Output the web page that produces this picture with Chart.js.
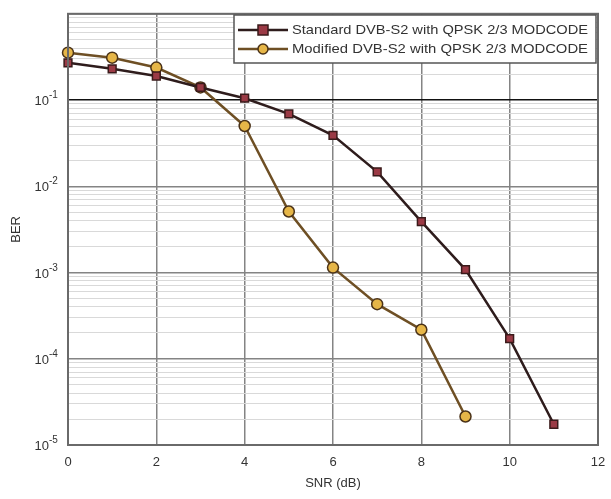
<!DOCTYPE html>
<html>
<head>
<meta charset="utf-8">
<script src="https://cdn.jsdelivr.net/npm/chart.js@4.4.1/dist/chart.umd.min.js"></script>
<style>
  html, body { margin: 0; padding: 0; background: #fff; }
  #wrap { width: 611px; height: 499px; }
</style>
</head>
<body>
<div id="wrap"><canvas id="berChart" width="611" height="499"></canvas></div>
<script>
// Dados
const snrDb = [0, 1, 2, 3, 4, 5, 6, 7, 8, 9, 10, 11];
const berStandard = [0.27, 0.23, 0.19, 0.14, 0.105, 0.069, 0.039, 0.0147, 0.0039, 0.00108, 0.000171, 0.0000174];
const berModified = [0.354, 0.31, 0.238, 0.14, 0.05, 0.0051, 0.00114, 0.00043, 0.000217, 0.0000214];
const seriesLabels = ['Standard DVB-S2 with QPSK 2/3 MODCODE', 'Modified DVB-S2 with QPSK 2/3 MODCODE'];
const decadeExps = [-1, -2, -3, -4, -5];

const FONT = '"Liberation Sans", Arial, sans-serif';

function toPoints(ys) {
    return ys.map((y, i) => ({ x: snrDb[i], y: y }));
}

function decadeOf(v) {
    const e = Math.log10(v);
    return Math.abs(e - Math.round(e)) < 1e-6 ? Math.round(e) : null;
}

// Rótulos 10^n com expoente sobrescrito
const decadeTickLabels = {
    id: 'decadeTickLabels',
    afterDraw(chart) {
        const ctx = chart.ctx;
        const ys = chart.scales.y;
        ctx.save();
        ctx.fillStyle = '#333';
        ctx.textBaseline = 'alphabetic';
        decadeExps.forEach(e => {
            const py = ys.getPixelForValue(Math.pow(10, e));
            ctx.font = '13px ' + FONT;
            ctx.textAlign = 'right';
            ctx.fillText('10', 49, py + 5);
            ctx.font = '10px ' + FONT;
            ctx.textAlign = 'left';
            ctx.fillText(String(e), 49, py - 2);
        });
        ctx.restore();
    }
};

// Legenda desenhada dentro da área do gráfico
const insideLegend = {
    id: 'insideLegend',
    afterDraw(chart) {
        const ctx = chart.ctx;
        const a = chart.chartArea;
        ctx.save();
        ctx.strokeStyle = '#6a6a6a';
        ctx.lineWidth = 2;
        ctx.strokeRect(a.left, a.top, a.right - a.left, a.bottom - a.top);

        const x0 = 234, y0 = 15, w = a.right - 236, h = 48;
        ctx.fillStyle = '#fff';
        ctx.fillRect(x0, y0, w, h);
        ctx.strokeStyle = '#555';
        ctx.lineWidth = 1.5;
        ctx.strokeRect(x0, y0, w, h);

        ctx.font = '13px ' + FONT;
        ctx.textBaseline = 'middle';
        chart.data.datasets.forEach((ds, i) => {
            const y = y0 + 15 + i * 19;
            ctx.strokeStyle = ds.borderColor;
            ctx.lineWidth = 2.5;
            ctx.beginPath();
            ctx.moveTo(x0 + 4, y);
            ctx.lineTo(x0 + 54, y);
            ctx.stroke();
            ctx.fillStyle = ds.pointBackgroundColor;
            ctx.strokeStyle = ds.pointBorderColor;
            ctx.lineWidth = 1.5;
            if (ds.pointStyle === 'rect') {
                ctx.fillRect(x0 + 24, y - 5, 10, 10);
                ctx.strokeRect(x0 + 24, y - 5, 10, 10);
            } else {
                ctx.beginPath();
                ctx.arc(x0 + 29, y, 5, 0, Math.PI * 2);
                ctx.fill();
                ctx.stroke();
            }
            ctx.fillStyle = '#333';
            const txt = ds.label;
            const tw = ctx.measureText(txt).width;
            ctx.save();
            ctx.translate(x0 + 58, y);
            ctx.scale(Math.min(1.15, 296 / tw), 1);
            ctx.fillText(txt, 0, 0);
            ctx.restore();
        });
        ctx.restore();
    }
};

const ctx = document.getElementById('berChart').getContext('2d');
new Chart(ctx, {
    type: 'line',
    data: {
        datasets: [{
            label: seriesLabels[0],
            data: toPoints(berStandard),
            borderColor: '#2e1c1c',
            borderWidth: 2.5,
            pointStyle: 'rect',
            pointRadius: 5.5,
            pointBackgroundColor: '#9b3a45',
            pointBorderColor: '#3a1a1a',
            pointBorderWidth: 1.5,
            tension: 0,
            clip: false
        }, {
            label: seriesLabels[1],
            data: toPoints(berModified),
            borderColor: '#6e4f24',
            borderWidth: 2.5,
            pointStyle: 'circle',
            pointRadius: 5.5,
            pointBackgroundColor: '#e6b648',
            pointBorderColor: '#4a3218',
            pointBorderWidth: 1.5,
            tension: 0,
            clip: false
        }]
    },
    options: {
        responsive: false,
        animation: false,
        layout: { padding: { top: 8, right: 13, bottom: 8, left: 9 } },
        plugins: {
            legend: { display: false },
            tooltip: { enabled: false }
        },
        scales: {
            x: {
                type: 'linear',
                min: 0,
                max: 12,
                ticks: {
                    stepSize: 2,
                    color: '#333',
                    font: { size: 13, family: FONT },
                    padding: 10
                },
                grid: { color: '#848484', lineWidth: 1.5, drawTicks: false },
                border: { display: false },
                title: {
                    display: true,
                    text: 'SNR (dB)',
                    color: '#333',
                    font: { size: 13, family: FONT },
                    padding: { top: 3, bottom: 0 }
                },
                afterFit(scale) {
                    scale.height = 46;
                    scale.paddingRight = 0;
                    scale.paddingLeft = 0;
                }
            },
            y: {
                type: 'logarithmic',
                min: 1e-5,
                max: 1,
                afterBuildTicks(scale) {
                    const t = [];
                    for (let e = -5; e <= 0; e++) {
                        for (let m = 1; m <= 9; m++) {
                            const v = m * Math.pow(10, e);
                            if (v <= 1) t.push({ value: v });
                        }
                    }
                    scale.ticks = t;
                },
                ticks: {
                    autoSkip: false,
                    color: 'rgba(0,0,0,0)',
                    font: { size: 13, family: FONT },
                    padding: 6,
                    callback() { return ''; }
                },
                grid: {
                    drawTicks: false,
                    color(c) {
                        const d = decadeOf(c.tick.value);
                        if (d === -1) return '#111';
                        if (d !== null) return '#848484';
                        return '#d9d9d9';
                    },
                    lineWidth(c) {
                        return decadeOf(c.tick.value) !== null ? 1.5 : 1;
                    }
                },
                border: { display: false },
                title: {
                    display: true,
                    text: 'BER',
                    color: '#333',
                    font: { size: 13, family: FONT },
                    padding: { top: 0, bottom: 4 }
                },
                afterFit(scale) { scale.width = 59; }
            }
        }
    },
    plugins: [decadeTickLabels, insideLegend]
});
</script>
</body>
</html>
